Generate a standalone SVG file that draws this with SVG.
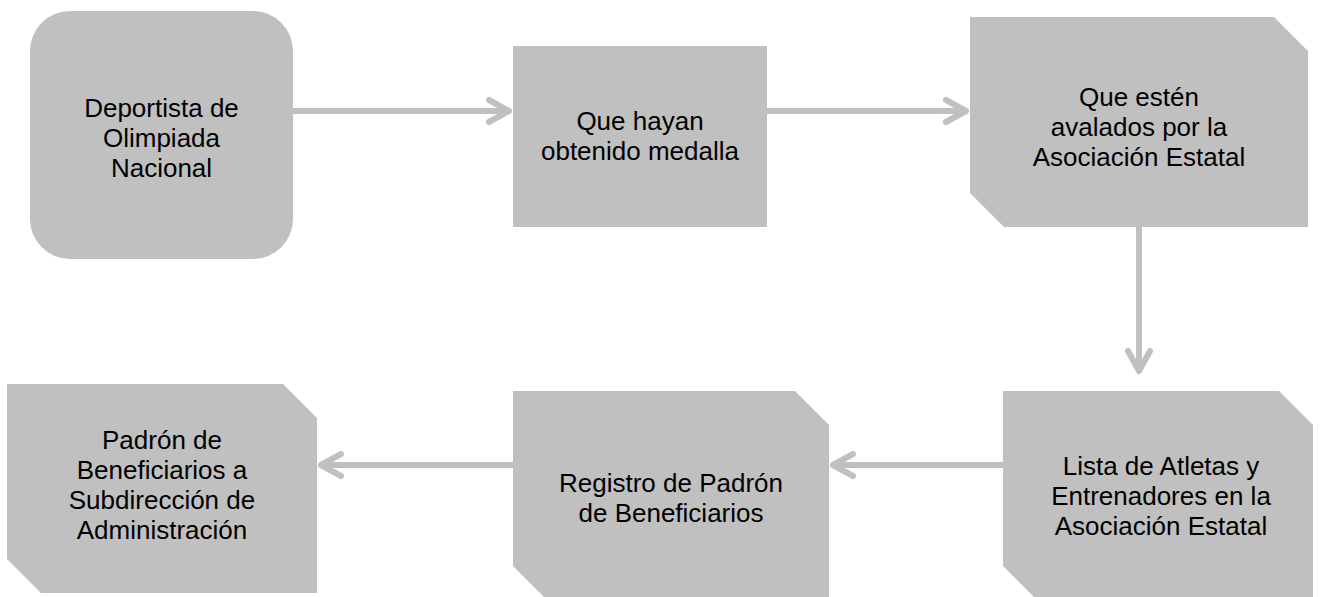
<svg xmlns="http://www.w3.org/2000/svg" width="1322" height="597" viewBox="0 0 1322 597">
<style>
.box{fill:#c0c0c0;stroke:none}
.lbl{font-family:"Liberation Sans",Arial,sans-serif;font-size:26px;fill:#000;text-anchor:middle}
.con{fill:none;stroke:#c0c0c0;stroke-width:6}
</style>
<defs>
<marker id="chev" markerUnits="userSpaceOnUse" viewBox="-30 -20 40 40" refX="0" refY="0" markerWidth="40" markerHeight="40" orient="auto" overflow="visible">
<path d="M-20,-11 L0,0 L-20,11" fill="none" stroke="#c0c0c0" stroke-width="6" stroke-linecap="round" stroke-linejoin="round"/>
</marker>
</defs>
<rect width="1322" height="597" fill="#fff"/>
<g id="connectors">
<path class="con" d="M293,111 H509" marker-end="url(#chev)"/>
<path class="con" d="M767,111 H966" marker-end="url(#chev)"/>
<path class="con" d="M1139,227 V371" marker-end="url(#chev)"/>
<path class="con" d="M1003,465 H833" marker-end="url(#chev)"/>
<path class="con" d="M513,465 H321" marker-end="url(#chev)"/>
</g>
<g id="n1">
<rect class="box" x="30" y="11" width="263" height="248" rx="40" ry="40"/>
<text class="lbl"><tspan x="161.5" y="117">Deportista de</tspan><tspan x="161.5" y="147">Olimpiada</tspan><tspan x="161.5" y="177">Nacional</tspan></text>
</g>
<g id="n2">
<rect class="box" x="513" y="46" width="254" height="181"/>
<text class="lbl"><tspan x="640" y="130">Que hayan</tspan><tspan x="640" y="160">obtenido medalla</tspan></text>
</g>
<g id="n3">
<path class="box" d="M970,17 H1274 L1308,51 V227 H1004 L970,193 Z"/>
<text class="lbl"><tspan x="1139" y="106">Que estén</tspan><tspan x="1139" y="136">avalados por la</tspan><tspan x="1139" y="166">Asociación Estatal</tspan></text>
</g>
<g id="n4">
<path class="box" d="M1003,391 H1279 L1313,425 V600 H1037 L1003,566 Z"/>
<text class="lbl"><tspan x="1161" y="475">Lista de Atletas y</tspan><tspan x="1161" y="505">Entrenadores en la</tspan><tspan x="1161" y="535">Asociación Estatal</tspan></text>
</g>
<g id="n5">
<path class="box" d="M513,391 H795 L829,425 V600 H547 L513,566 Z"/>
<text class="lbl"><tspan x="671" y="492">Registro de Padrón</tspan><tspan x="671" y="522">de Beneficiarios</tspan></text>
</g>
<g id="n6">
<path class="box" d="M7,384 H283 L317,418 V593 H41 L7,559 Z"/>
<text class="lbl"><tspan x="162" y="449">Padrón de</tspan><tspan x="162" y="479">Beneficiarios a</tspan><tspan x="162" y="509">Subdirección de</tspan><tspan x="162" y="539">Administración</tspan></text>
</g>
</svg>
